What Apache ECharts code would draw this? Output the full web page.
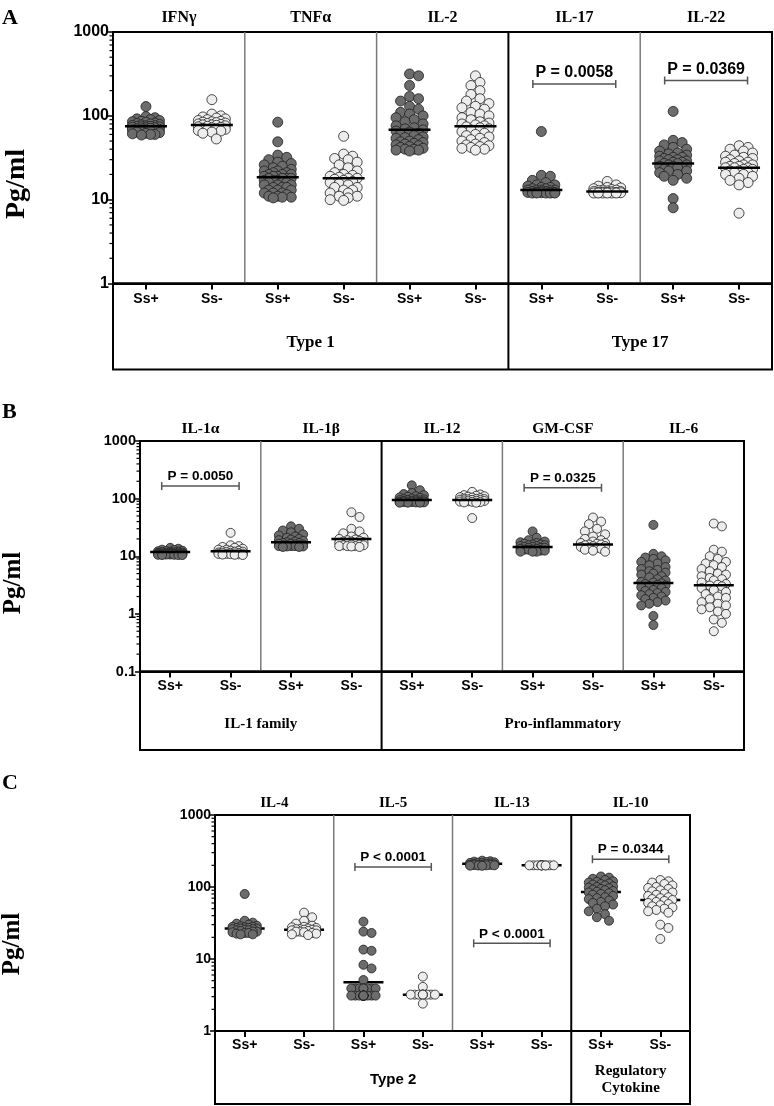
<!DOCTYPE html>
<html><head><meta charset="utf-8">
<script src="https://cdn.jsdelivr.net/npm/echarts@6/dist/echarts.min.js"></script>
<style>html,body{margin:0;padding:0;background:#fff}#c{width:774px;height:1106px}</style>
</head><body><div id="c"></div>
<script>
// ================= DATA =================
const groupLabels = ['Ss+', 'Ss-'];

// Panel A
const cytokinesA = ['IFNγ', 'TNFα', 'IL-2', 'IL-17', 'IL-22'];
const familiesA = ['Type 1', 'Type 17'];
const familySpanA = [3, 2];
const ifngPos = [129, 98, 95, 92, 90, 88, 86, 85, 84, 82, 81, 80, 79, 78, 77, 76, 76, 75, 75, 74, 74, 73, 72, 72, 71, 70, 70, 69, 68, 68, 67, 66, 65, 64, 63, 62, 61, 60, 60, 59];
const ifngNeg = [156, 105, 100, 97, 94, 92, 90, 88, 86, 85, 84, 83, 82, 81, 80, 79, 78, 78, 77, 76, 75, 74, 73, 72, 71, 70, 69, 68, 67, 66, 64, 62, 53];
const tnfPos = [84, 49, 34, 32, 30, 28, 27, 26, 25, 24, 23, 22, 22, 21, 21, 20, 20, 20, 19, 19, 19, 18, 18, 18, 18, 17, 17, 17, 16, 16, 16, 15, 15, 15, 14, 14, 14, 13, 13, 13, 12, 12, 12, 11.5, 11, 11, 10.7, 10.7, 10.5];
const tnfNeg = [57, 35, 33, 31, 30, 28, 26, 24, 22, 21, 20, 19.5, 19, 18.5, 18, 18, 17.5, 17, 16.5, 16, 15.5, 15, 14, 14, 13, 13, 12, 12, 11, 11, 10.5, 10, 9.8];
const il2Pos = [316, 300, 230, 170, 160, 150, 130, 120, 110, 105, 100, 95, 90, 85, 80, 76, 72, 70, 68, 66, 64, 62, 60, 58, 56, 55, 54, 52, 50, 49, 48, 47, 46, 45, 44, 43, 42, 41, 40, 40, 39, 39, 38];
const il2Neg = [300, 250, 230, 200, 180, 160, 150, 140, 130, 125, 120, 110, 105, 100, 95, 90, 85, 82, 80, 78, 76, 74, 72, 70, 68, 65, 62, 60, 58, 56, 54, 52, 50, 48, 46, 45, 44, 43, 42, 41, 40, 39];
const il17Pos = [65, 19.5, 19, 17, 16, 15, 15, 14.5, 14, 14, 13.5, 13.5, 13, 13, 13, 13, 12.8, 12.5, 12.5, 12.5, 12.3, 12.2, 12.2, 12.2, 12.1, 12, 12, 12, 12, 12];
const il17Neg = [16.5, 15, 14.5, 14, 13.8, 13.5, 13.2, 13, 13, 12.8, 12.7, 12.5, 12.5, 12.4, 12.3, 12.2, 12.2, 12.2, 12.1, 12, 12, 12, 12, 12, 12];
const il22Pos = [113, 51, 48, 45, 42, 40, 38, 36, 35, 34, 33, 32, 32, 31, 30, 30, 29, 29, 28, 28, 27, 27, 26, 26, 25, 25, 24, 24, 23, 22, 22, 21, 20, 19, 18, 17, 10.3, 8];
const il22Neg = [44, 42, 40, 38, 36, 34, 33, 32, 31, 30, 29, 28, 28, 27, 26, 26, 25, 25, 24, 24, 24, 23, 23, 22, 22, 21, 21, 20, 20, 19, 18, 17, 16, 15, 6.9];
const centerA = [75, 78, 18.5, 18, 68, 75, 13, 12.5, 27, 24];
const bracketsA = [[6, 7, 240, 'P = 0.0058'], [8, 9, 264, 'P = 0.0369']];

// Panel B
const cytokinesB = ['IL-1α', 'IL-1β', 'IL-12', 'GM-CSF', 'IL-6'];
const familiesB = ['IL-1 family', 'Pro-inflammatory'];
const familySpanB = [2, 3];
const il1aPos = [14, 13.5, 13, 12.8, 12.5, 12.3, 12.2, 12, 12, 11.8, 11.7, 11.6, 11.5, 11.5, 11.4, 11.3, 11.2, 11.2, 11.1, 11, 11, 11, 10.9, 10.9, 10.8, 10.8, 10.7, 10.7, 10.6, 10.6, 10.5, 10.5, 10.5];
const il1aNeg = [25.5, 15.5, 15, 14.5, 14, 13.5, 13, 13, 12.5, 12.5, 12.2, 12, 12, 11.8, 11.6, 11.5, 11.4, 11.3, 11.2, 11.1, 11, 11, 10.9, 10.8, 10.7, 10.6, 10.5];
const il1bPos = [33, 30, 28, 26, 24, 23, 22, 21, 20, 19.5, 19, 18.5, 18, 17.5, 17, 17, 16.5, 16.5, 16, 16, 15.5, 15.5, 15.5, 15, 15, 15, 14.8, 14.8, 14.5, 14.5];
const il1bNeg = [58, 48, 30, 27, 25, 22, 21, 20, 19.5, 19, 18.5, 18, 18, 17.5, 17, 17, 16.5, 16, 16, 15.5, 15.5, 15, 15, 15, 14.8, 14.5];
const il12Pos = [170, 140, 125, 120, 115, 110, 108, 105, 103, 100, 98, 97, 96, 95, 94, 93, 92, 91, 90, 90, 89, 88, 88, 87, 87, 86, 86, 85, 85, 85];
const il12Neg = [131, 118, 115, 112, 110, 108, 106, 104, 102, 100, 99, 98, 97, 96, 95, 94, 93, 92, 91, 90, 89, 88, 87, 86, 85, 46];
const gmcsfPos = [27, 21, 19, 18, 17.5, 17, 16.5, 16, 16, 15.5, 15.5, 15, 15, 14.5, 14.5, 14, 14, 14, 13.5, 13.5, 13, 13, 13, 12.5, 12.5, 12, 12, 12];
const gmcsfNeg = [47, 40, 36, 30, 27, 24, 22, 20, 19, 18, 17, 17, 16.5, 16, 16, 15.5, 15, 15, 14.5, 14, 14, 13.5, 13, 12.5, 12];
const il6Pos = [35, 11, 10, 9.5, 9, 8.5, 8, 7.5, 7, 6.5, 6, 5.8, 5.5, 5.2, 5, 4.8, 4.5, 4.3, 4, 3.8, 3.6, 3.5, 3.4, 3.3, 3.2, 3.1, 3, 2.9, 2.8, 2.6, 2.5, 2.4, 2.3, 2.2, 2.1, 2, 1.9, 1.8, 1.7, 1.6, 1.5, 1.4, 0.92, 0.64];
const il6Neg = [37, 33, 13, 12, 10, 9, 8, 7.5, 7, 6.5, 6, 5.5, 5, 4.8, 4.5, 4.2, 4, 3.8, 3.5, 3.3, 3.2, 3.1, 3, 2.8, 2.6, 2.4, 2.2, 2, 1.9, 1.8, 1.6, 1.5, 1.4, 1.3, 1.2, 1.1, 1, 0.8, 0.7, 0.5];
const centerB = [11.9, 12.2, 17.5, 20, 95, 95, 14.5, 16, 3.45, 3.15];
const bracketsB = [[0, 1, 165, 'P = 0.0050'], [6, 7, 154, 'P = 0.0325']];

// Panel C
const cytokinesC = ['IL-4', 'IL-5', 'IL-13', 'IL-10'];
const familiesC = ['Type 2', 'Regulatory\nCytokine'];
const familySpanC = [3, 1];
const il4Pos = [80, 34, 32, 31, 30, 29, 28.5, 28, 28, 27.5, 27, 27, 26.5, 26.5, 26, 26, 25.5, 25, 25, 24.5, 24, 24, 23.5, 23, 23, 22.5, 22, 22];
const il4Neg = [44, 38, 34, 31, 29, 28, 27.5, 27, 26.5, 26, 26, 25.5, 25.5, 25, 25, 24.5, 24, 24, 23.5, 23, 22.5, 22, 21.5];
const il5Pos = [33, 24, 23, 13.5, 13, 8.3, 7.4, 5.1, 3.9, 3.9, 3.9, 3.9, 3.9, 3.9, 3.9, 3.9, 3.9, 3.1, 3.1, 3.1, 3.1, 3.1, 3.1, 3.1, 3.1, 3.1, 3.1, 3.1, 3.1, 3.1, 3.1, 3.1, 3.1];
const il5Neg = [5.7, 4.1, 3.2, 3.2, 3.2, 3.2, 3.2, 3.2, 3.2, 3.2, 3.2, 3.2, 2.4];
const il13Pos = [232, 228, 225, 222, 220, 218, 216, 214, 212, 210, 208, 206, 205, 204, 203, 202, 201, 200, 200, 199, 198, 197];
const il13Neg = [201, 200, 200, 200, 200, 200, 200, 200, 200, 200, 199, 199];
const il10Pos = [140, 135, 130, 125, 120, 118, 115, 112, 110, 108, 105, 102, 100, 98, 96, 94, 92, 90, 88, 86, 84, 82, 80, 78, 75, 72, 70, 68, 65, 62, 60, 57, 54, 50, 46, 42, 38, 34];
const il10Neg = [125, 120, 115, 110, 105, 100, 97, 94, 90, 87, 84, 81, 78, 75, 72, 70, 68, 66, 64, 62, 60, 58, 56, 54, 52, 50, 48, 46, 44, 30, 27, 19];
const centerC = [26.5, 25.5, 4.75, 3.2, 210, 200, 85, 66];
const bracketsC = [[2, 3, 190, 'P < 0.0001'], [4, 5, 16.5, 'P < 0.0001'], [6, 7, 243, 'P = 0.0344']];

const yLabel = 'Pg/ml';

// ================= LAYOUT / STYLE =================
const DARK = '#6c6c6c', LIGHT = '#ededed', EDGE = '#1e1e1e';
const SANS = '"Liberation Sans", Arial, sans-serif';
const SERIF = '"Liberation Serif", "Times New Roman", serif';

const panels = [
  { letter: 'A', cats: cytokinesA, families: familiesA, spans: familySpanA,
    groups: [ifngPos, ifngNeg, tnfPos, tnfNeg, il2Pos, il2Neg, il17Pos, il17Neg, il22Pos, il22Neg],
    centers: centerA, brackets: bracketsA,
    L: { left: 113, top: 32, width: 659, height: 251.5, boxH: 86, min: 1, max: 1000, dot: 10, lineW: 42,
      half: 17, tickFont: 16, catFont: 14, catMargin: 9, titleFont: 16, titleMargin: 6, pFont: 16, pGap: 11,
      famFonts: [SERIF, SERIF], famSize: 17, famY: 343, letterY: 18, pgX: 17, pgY: 184, pgFont: 28, lineFront: true } },
  { letter: 'B', cats: cytokinesB, families: familiesB, spans: familySpanB,
    groups: [il1aPos, il1aNeg, il1bPos, il1bNeg, il12Pos, il12Neg, gmcsfPos, gmcsfNeg, il6Pos, il6Neg],
    centers: centerB, brackets: bracketsB,
    L: { left: 140, top: 441, width: 604, height: 230.5, boxH: 78.5, min: 0.1, max: 1000, dot: 9, lineW: 40,
      half: 15, tickFont: 14.5, catFont: 14, catMargin: 7.5, titleFont: 15.5, titleMargin: 4.5, pFont: 13.5, pGap: 10,
      famFonts: [SERIF, SERIF], famSize: 15, famY: 724, letterY: 412, pgX: 14, pgY: 583, pgFont: 25, lineFront: true } },
  { letter: 'C', cats: cytokinesC, families: familiesC, spans: familySpanC,
    groups: [il4Pos, il4Neg, il5Pos, il5Neg, il13Pos, il13Neg, il10Pos, il10Neg],
    centers: centerC, brackets: bracketsC,
    L: { left: 215, top: 815, width: 475, height: 216, boxH: 73, min: 1, max: 1000, dot: 9, lineW: 40,
      half: 15, tickFont: 14, catFont: 14, catMargin: 7, titleFont: 15, titleMargin: 4.5, pFont: 13.5, pGap: 9.5,
      famFonts: [SANS, SERIF], famSize: 15, famY: 1080, letterY: 783, pgX: 13, pgY: 944, pgFont: 25, lineFront: false } }
];

// beeswarm offsets (pixels -> band units), computed from values via the log scale
function swarm(values, decadePx, bandPx, d, maxHalf) {
  const pts = values.map((v, i) => ({ i, y: -Math.log10(v) * decadePx }));
  const placed = [];
  const out = new Array(values.length);
  const minD = d * 0.8, step = d * 0.45;
  const cands = [0];
  for (let k = 1; k * step <= maxHalf + 0.01; k++) { cands.push(k * step, -k * step); }
  pts.forEach(p => {
    let best = 0, bestScore = -Infinity;
    for (const x of cands) {
      let md = Infinity;
      for (const q of placed) { const dd = Math.hypot(q.x - x, q.y - p.y); if (dd < md) md = dd; }
      if (md >= minD) { best = x; break; }
      if (md > bestScore) { bestScore = md; best = x; }
    }
    placed.push({ x: best, y: p.y });
    out[p.i] = best / bandPx;
  });
  return out;
}

const option = { animation: false, backgroundColor: '#fff', grid: [], xAxis: [], yAxis: [], series: [], graphic: [] };
const G = option.graphic;

panels.forEach((P, pi) => {
  const L = P.L;
  const nCat = P.cats.length * 2;
  const bandPx = L.width / nCat;
  const decadePx = L.height / (Math.log10(L.max) - Math.log10(L.min));
  const catLabels = [];
  P.cats.forEach(() => catLabels.push(...groupLabels));

  option.grid.push({ left: L.left, top: L.top, width: L.width, height: L.height, show: true,
    borderColor: '#000', borderWidth: 2, backgroundColor: 'transparent' });
  const xi = option.xAxis.length;
  option.xAxis.push({ gridIndex: pi, type: 'category', data: catLabels, position: 'bottom', boundaryGap: true,
    axisLine: { show: true, onZero: false, lineStyle: { color: '#000', width: 2 } },
    axisTick: { show: true, alignWithLabel: true, interval: 0, length: 6, lineStyle: { color: '#000', width: 2 } },
    axisLabel: { interval: 0, margin: L.catMargin, color: '#000', fontWeight: 'bold', fontSize: L.catFont, fontFamily: SANS },
    splitLine: { show: false } });
  option.xAxis.push({ gridIndex: pi, type: 'value', min: -0.5, max: nCat - 0.5, show: false,
    axisLine: { onZero: false } });
  option.xAxis.push({ gridIndex: pi, type: 'category', position: 'top', data: P.cats,
    axisLine: { show: false, onZero: false }, axisTick: { show: false }, splitLine: { show: false },
    axisLabel: { interval: 0, margin: L.titleMargin, color: '#000', fontWeight: 'bold', fontSize: L.titleFont, fontFamily: SERIF } });
  option.yAxis.push({ gridIndex: pi, type: 'log', logBase: 10, min: L.min, max: L.max, position: 'left',
    axisLine: { show: true, onZero: false, lineStyle: { color: '#000', width: 2 } },
    axisTick: { show: true, length: 5, lineStyle: { color: '#000', width: 1.5 } },
    axisLabel: { margin: 4, color: '#000', fontWeight: 'bold', fontSize: L.tickFont, fontFamily: SANS,
      formatter: v => String(+(+v).toPrecision(6)) },
    splitLine: { show: false } });

  // scatter dots
  P.groups.forEach((vals, gi) => {
    const offs = swarm(vals, decadePx, bandPx, L.dot, L.half);
    option.series.push({ type: 'scatter', xAxisIndex: xi + 1, yAxisIndex: pi, symbol: 'circle', symbolSize: L.dot,
      silent: true, z: 3,
      itemStyle: { color: gi % 2 === 0 ? DARK : LIGHT, borderColor: EDGE, borderWidth: 0.8, opacity: 1 },
      data: vals.map((v, k) => [gi + offs[k], v]) });
  });
  // center lines
  option.series.push({ type: 'scatter', xAxisIndex: xi + 1, yAxisIndex: pi, symbol: 'rect',
    symbolSize: [L.lineW, 2.5], silent: true, z: L.lineFront ? 4 : 2,
    itemStyle: { color: '#000', opacity: 1 }, data: P.centers.map((c, i) => [i, c]) });
  // minor log ticks
  const minor = [];
  for (let e = Math.round(Math.log10(L.min)); e < Math.round(Math.log10(L.max)); e++)
    for (let m = 2; m <= 9; m++) minor.push([-0.5, m * Math.pow(10, e)]);
  option.series.push({ type: 'custom', xAxisIndex: xi + 1, yAxisIndex: pi, clip: false, silent: true, z: 5,
    data: minor, encode: { x: 0, y: 1 },
    renderItem: (params, api) => {
      const p = api.coord([api.value(0), api.value(1)]);
      return { type: 'line', shape: { x1: p[0] - 3.5, y1: p[1], x2: p[0], y2: p[1] }, style: { stroke: '#000', lineWidth: 1.2 } };
    } });
  // p-value brackets
  const padU = 8.5 / bandPx;
  option.series.push({ type: 'custom', xAxisIndex: xi + 1, yAxisIndex: pi, clip: false, silent: true, z: 6,
    data: P.brackets.map(b => [b[0], b[1], b[2]]),
    encode: { x: [0, 1], y: 2 },
    renderItem: (params, api) => {
      const a = api.coord([api.value(0) - padU, api.value(2)]);
      const b = api.coord([api.value(1) + padU, api.value(2)]);
      const t = P.brackets[params.dataIndex][3];
      const st = { stroke: '#555', lineWidth: 1.5 };
      return { type: 'group', children: [
        { type: 'line', shape: { x1: a[0], y1: a[1], x2: b[0], y2: a[1] }, style: st },
        { type: 'line', shape: { x1: a[0], y1: a[1] - 4, x2: a[0], y2: a[1] + 4 }, style: st },
        { type: 'line', shape: { x1: b[0], y1: a[1] - 4, x2: b[0], y2: a[1] + 4 }, style: st },
        { type: 'text', x: (a[0] + b[0]) / 2, y: a[1] - L.pGap,
          style: { text: t, fill: '#000', font: 'bold ' + L.pFont + 'px ' + SANS,
            textAlign: 'center', textVerticalAlign: 'middle', align: 'center', verticalAlign: 'middle' } }
      ] };
    } });

  // frame: lower box, dividers, family labels
  const bottom = L.top + L.height;
  const nP = P.cats.length;
  const pw = L.width / nP;
  G.push({ type: 'rect', z: 100, shape: { x: L.left, y: bottom, width: L.width, height: L.boxH },
    style: { fill: 'none', stroke: '#000', lineWidth: 2 } });
  const famBounds = [];
  let acc = 0;
  P.spans.forEach(s => { acc += s; famBounds.push(acc); });
  for (let k = 1; k < nP; k++) {
    const x = L.left + pw * k;
    const fam = famBounds.indexOf(k) >= 0;
    G.push({ type: 'line', z: fam ? 101 : 99,
      shape: { x1: x, y1: L.top, x2: x, y2: fam ? bottom + L.boxH : bottom },
      style: { stroke: fam ? '#000' : '#7a7a7a', lineWidth: fam ? 2 : 1.5 } });
  }
  let start = 0;
  P.families.forEach((f, fi) => {
    const end = famBounds[fi];
    const cx = L.left + pw * (start + end) / 2;
    G.push({ type: 'text', z: 102, x: cx, y: L.famY,
      style: { text: f, fill: '#000', font: 'bold ' + L.famSize + 'px ' + L.famFonts[fi], lineHeight: 17,
        textAlign: 'center', textVerticalAlign: 'middle', align: 'center', verticalAlign: 'middle' } });
    start = end;
  });
  // panel letter
  G.push({ type: 'text', z: 102, x: 2, y: L.letterY,
    style: { text: P.letter, fill: '#000', font: 'bold 22px ' + SERIF,
      textAlign: 'left', textVerticalAlign: 'middle', align: 'left', verticalAlign: 'middle' } });
  // y axis title
  G.push({ type: 'text', z: 102, x: L.pgX, y: L.pgY, rotation: Math.PI / 2,
    style: { text: yLabel, fill: '#000', font: 'bold ' + L.pgFont + 'px ' + SERIF,
      textAlign: 'center', textVerticalAlign: 'middle', align: 'center', verticalAlign: 'middle' } });
});

const chart = echarts.init(document.getElementById('c'), null, { renderer: 'canvas', width: 774, height: 1106 });
chart.setOption(option);
</script>
</body></html>
